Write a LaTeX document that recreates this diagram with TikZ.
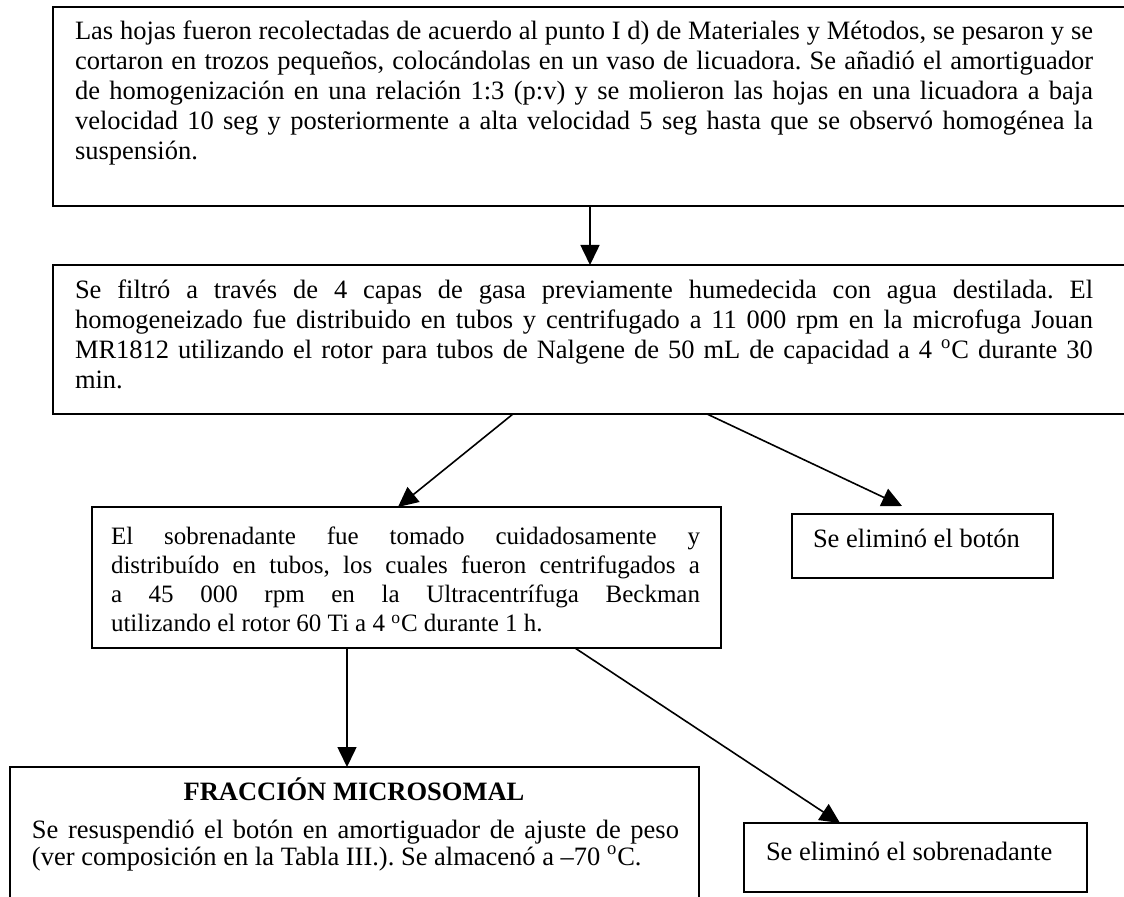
\documentclass[tikz,border=0pt]{standalone}
\usepackage{fontspec}
\setmainfont{Liberation Serif}
\usetikzlibrary{arrows.meta,calc}
\newcommand\jline[1]{\leavevmode\hbox to\hsize{#1}}
\newcommand\normsp{\frenchspacing\spaceskip=0pt\xspaceskip=0pt\relax}
\newcommand\dgr{\textsuperscript{o}}
\begin{document}
\begin{tikzpicture}[x=0.5pt,y=-0.5pt,
  sz/.style 2 args={minimum width={#1*0.5pt},minimum height={#2*0.5pt}},
  frame/.style={draw=black,line width=1pt,inner sep=0pt,outer sep=0pt,anchor=north west},
  open/.style={inner sep=0pt,outer sep=0pt,anchor=north west},
  edge/.style={line width=1pt},
  txt/.style={inner sep=0pt,outer sep=0pt,anchor=base west,align=left},
  big/.style={font=\fontsize{13.25}{15}\selectfont},
  mid/.style={font=\fontsize{12.5}{14.5}\selectfont},
  conn/.style={line width=0.8pt,-{Triangle[length=10pt,width=9.5pt]}},
]
\useasboundingbox (0,0) rectangle (1124,897);

% boxes
\node[open,sz={1071}{199}] (b1) at (53,7) {};
\draw[edge] (b1.north east) -- (b1.north west) -- (b1.south west) -- (b1.south east);
\node[open,sz={1071}{149}] (b2) at (53,265) {};
\draw[edge] (b2.north east) -- (b2.north west) -- (b2.south west) -- (b2.south east);
\node[frame,sz={629}{141}] (b3) at (92,507) {};
\node[frame,sz={261}{64}] (b4) at (792,514) {};
\node[open,sz={689}{140}] (b5) at (10,767) {};
\draw[edge] (b5.south west) -- (b5.north west) -- (b5.north east) -- (b5.south east);
\node[frame,sz={343}{69}] (b6) at (744,823) {};

% texts
\node[txt,big,text width=509pt] (t1) at (75,40) {\normsp\noindent
\jline{Las hojas fueron recolectadas de acuerdo al punto I d) de Materiales y Métodos, se pesaron y se}\\
\jline{cortaron en trozos pequeños, colocándolas en un vaso de licuadora. Se añadió el amortiguador}\\
\jline{de homogenización en una relación 1:3 (p:v) y se molieron las hojas en una licuadora a baja}\\
\jline{velocidad 10 seg y posteriormente a alta velocidad 5 seg hasta que se observó homogénea la}\\
suspensión.};

\node[txt,big,text width=509pt] (t2) at (75,299) {\normsp\noindent
\jline{Se filtró a través de 4 capas de gasa previamente humedecida con agua destilada. El}\\
\jline{homogeneizado fue distribuido en tubos y centrifugado a 11 000 rpm en la microfuga Jouan}\\
\jline{MR1812 utilizando el rotor para tubos de Nalgene de 50 mL de capacidad a 4 \dgr C durante 30}\\
min.};

\node[txt,mid,text width=294.5pt] (t3) at (111,545) {\normsp\noindent
\jline{El sobrenadante fue tomado cuidadosamente y}\\
\jline{distribuído en tubos, los cuales fueron centrifugados a}\\
\jline{a 45 000 rpm en la Ultracentrífuga Beckman}\\
utilizando el rotor 60 Ti a 4 \dgr C durante 1 h.};

\node[txt,big] (t4) at (813,548) {\normsp Se eliminó el botón};

\node[inner sep=0pt,anchor=base,font=\fontsize{13.25}{15}\selectfont\bfseries] (t5h) at (354,800) {\normsp FRACCIÓN MICROSOMAL};
\node[txt,big,text width=323.5pt] (t5) at (32,838) {\normsp\noindent
\jline{Se resuspendió el botón en amortiguador de ajuste de peso}\\[-1.5pt]
(ver composición en la Tabla III.). Se almacenó a –70 \dgr C.};

\node[txt,big] (t6) at (766,860) {\normsp Se eliminó el sobrenadante};

% connectors
\draw[conn] ($(b1.south west)+(537,0)$) -- ($(b2.north west)+(537,0)$);
\draw[conn] ($(b2.south west)+(460,0)$) -- ($(b3.north west)+(306,0)$);
\draw[conn] ($(b2.south west)+(654,0)$) -- ($(b4.north west)+(110,-8)$);
\draw[conn] ($(b3.south west)+(255,0)$) -- ($(b5.north west)+(337,0)$);
\draw[conn] ($(b3.south west)+(483,0)$) -- ($(b6.north west)+(96,0)$);
\end{tikzpicture}
\end{document}
